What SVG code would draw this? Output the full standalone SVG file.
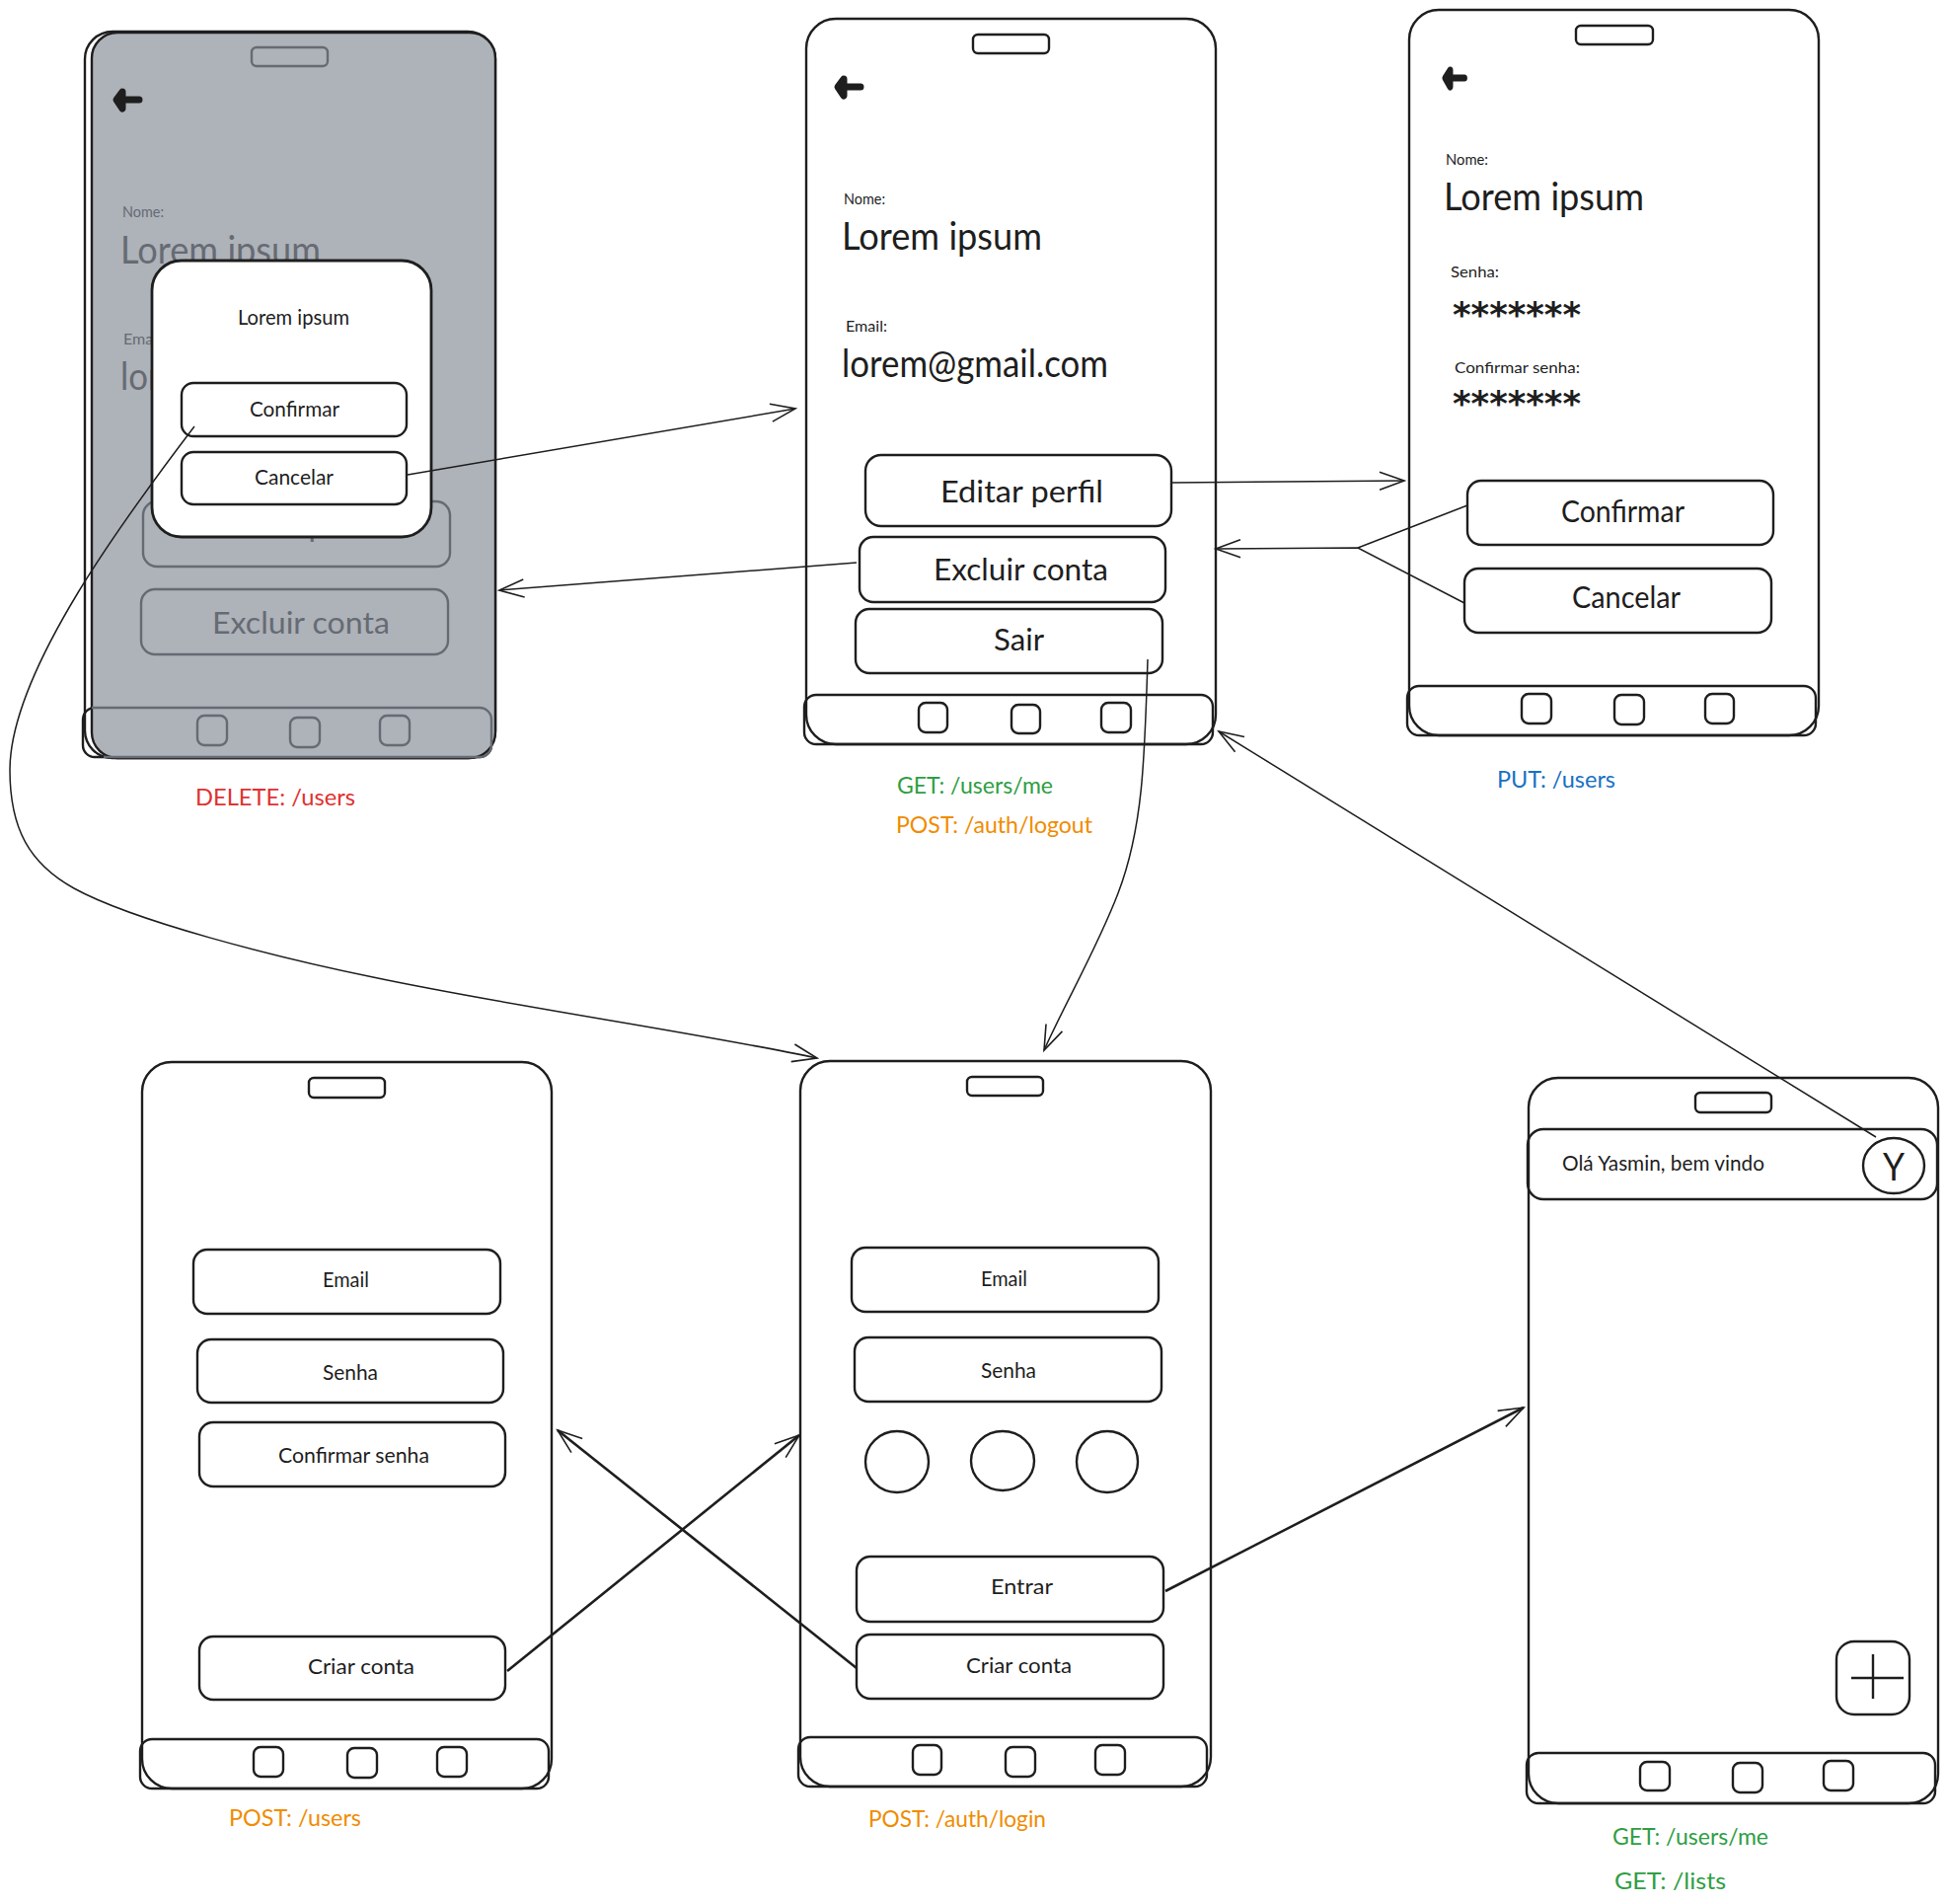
<svg xmlns="http://www.w3.org/2000/svg" width="1973" height="1929" viewBox="0 0 1973 1929">
<defs>
<style>
text{font-family:"Lato","Noto Sans",sans-serif;fill:#1e1e1e}
.s16{font-size:16px}.s20{font-size:21px}.s22{font-size:23px}.s28{font-size:30px}.s36{font-size:38px}
.ph,.btn,.bar,.sq,.no,.ci{fill:none;stroke:#1e1e1e;stroke-width:2.4}
.ph{fill:#fff}.btn,.dlg{fill:#fff}
.g .btn,.g .bar,.g .sq,.g .no{fill:none;stroke:#666b73}
.g text{fill:#666b73}
.dlg{stroke:#1e1e1e;stroke-width:2.8}
.ast{font-family:"DejaVu Sans",sans-serif;font-weight:700;font-size:36px}
.cn{fill:none;stroke:#1e1e1e;stroke-width:1.5;marker-end:url(#a)}
.cb{stroke-width:2.6}
.ln{fill:none;stroke:#1e1e1e;stroke-width:1.5}
.ic{fill:#1e1e1e;stroke:#1e1e1e;stroke-width:7;stroke-linecap:round;stroke-linejoin:round}
.red{fill:#e03131}.grn{fill:#2f9e44}.org{fill:#f08c00}.blu{fill:#1971c2}
</style>
<marker id="a" viewBox="-30 -15 34 30" markerWidth="34" markerHeight="30" refX="0" refY="0" orient="auto" markerUnits="userSpaceOnUse"><path d="M-25,-9 L0,0 L-25,9" fill="none" stroke="#1e1e1e" stroke-width="1.6"/></marker>
</defs>
<rect width="1973" height="1929" fill="#fff"/>

<g id="phone-delete">
<rect class="ph" x="86" y="32" width="416" height="736" rx="28"/>
<rect class="bar" x="84" y="717" width="414" height="50" rx="12"/>
<rect x="93" y="33" width="409" height="735" rx="26" fill="#aeb2b9" stroke="#1e1e1e" stroke-width="2.4"/>
<g class="g">
<rect class="no" x="255" y="48" width="77" height="19" rx="5"/>
<text class="s16" x="124" y="220" textLength="42" lengthAdjust="spacingAndGlyphs">Nome:</text>
<text class="s36" x="122" y="267" textLength="203" lengthAdjust="spacingAndGlyphs">Lorem ipsum</text>
<text class="s16" x="125" y="349" textLength="42" lengthAdjust="spacingAndGlyphs">Email:</text>
<text class="s36" x="122" y="395" textLength="270" lengthAdjust="spacingAndGlyphs">lorem@gmail.com</text>
<rect class="btn" x="145" y="508" width="311" height="66" rx="14"/>
<text class="s28" x="221" y="544" textLength="165" lengthAdjust="spacingAndGlyphs">Editar perfil</text>
<rect class="btn" x="143" y="597" width="311" height="66" rx="14"/>
<text class="s28" x="215" y="642" textLength="180" lengthAdjust="spacingAndGlyphs">Excluir conta</text>
<path class="bar" d="M93,717 H486 a12,12 0 0 1 12,12 V755 a12,12 0 0 1 -12,12 H105"/>
<rect class="sq" x="200" y="725" width="30" height="30" rx="7"/>
<rect class="sq" x="294" y="727" width="30" height="30" rx="7"/>
<rect class="sq" x="385" y="725" width="30" height="30" rx="7"/>
</g>
<path class="ic" transform="translate(114,89)" d="M10,4 L4,12 L10,21 Z M8,12 H27"/>
</g>

<g id="dialog">
<rect class="dlg" x="154" y="264" width="283" height="280" rx="30"/>
<text class="s20" x="241" y="329" textLength="113" lengthAdjust="spacingAndGlyphs">Lorem ipsum</text>
<g id="dialog-confirmar"><rect class="btn" x="184" y="388" width="228" height="54" rx="12"/>
<text class="s20" x="253" y="422" textLength="91" lengthAdjust="spacingAndGlyphs">Confirmar</text></g>
<g id="dialog-cancelar"><rect class="btn" x="184" y="458" width="228" height="53" rx="12"/>
<text class="s20" x="258" y="491" textLength="80" lengthAdjust="spacingAndGlyphs">Cancelar</text></g>
</g>
<text id="label-delete" class="s22 red" x="198" y="816" textLength="162" lengthAdjust="spacingAndGlyphs">DELETE: /users</text>

<g id="phone-profile">
<rect class="ph" x="817" y="19" width="415" height="735" rx="30"/>
<rect class="no" x="986" y="35" width="77" height="19" rx="5"/>
<path class="ic" transform="translate(845,76)" d="M10,4 L4,12 L10,21 Z M8,12 H27"/>
<text class="s16" x="855" y="207" textLength="42" lengthAdjust="spacingAndGlyphs">Nome:</text>
<text class="s36" x="853" y="253" textLength="203" lengthAdjust="spacingAndGlyphs">Lorem ipsum</text>
<text class="s16" x="857" y="336" textLength="42" lengthAdjust="spacingAndGlyphs">Email:</text>
<text class="s36" x="853" y="382" textLength="270" lengthAdjust="spacingAndGlyphs">lorem@gmail.com</text>
<g id="btn-editar"><rect class="btn" x="877" y="461" width="310" height="72" rx="16"/>
<text class="s28" x="953" y="509" textLength="165" lengthAdjust="spacingAndGlyphs">Editar perfil</text></g>
<g id="btn-excluir"><rect class="btn" x="871" y="544" width="310" height="66" rx="14"/>
<text class="s28" x="946" y="588" textLength="177" lengthAdjust="spacingAndGlyphs">Excluir conta</text></g>
<g id="btn-sair"><rect class="btn" x="867" y="617" width="311" height="65" rx="14"/>
<text class="s28" x="1007" y="659" textLength="51" lengthAdjust="spacingAndGlyphs">Sair</text></g>
<rect class="bar" x="815" y="704" width="414" height="50" rx="12"/>
<rect class="sq" x="931" y="712" width="29" height="30" rx="7"/>
<rect class="sq" x="1025" y="714" width="29" height="29" rx="7"/>
<rect class="sq" x="1116" y="712" width="30" height="30" rx="7"/>
</g>
<text id="label-profile-get" class="s22 grn" x="909" y="804" textLength="158" lengthAdjust="spacingAndGlyphs">GET: /users/me</text>
<text id="label-profile-post" class="s22 org" x="908" y="844" textLength="199" lengthAdjust="spacingAndGlyphs">POST: /auth/logout</text>

<g id="phone-edit">
<rect class="ph" x="1428" y="10" width="415" height="735" rx="30"/>
<rect class="no" x="1597" y="26" width="78" height="19" rx="5"/>
<path class="ic" transform="translate(1461,67) scale(.85,1)" d="M10,4 L4,12 L10,21 Z M8,12 H27"/>
<text class="s16" x="1465" y="167" textLength="43" lengthAdjust="spacingAndGlyphs">Nome:</text>
<text class="s36" x="1463" y="213" textLength="203" lengthAdjust="spacingAndGlyphs">Lorem ipsum</text>
<text class="s16" x="1470" y="281" textLength="49" lengthAdjust="spacingAndGlyphs">Senha:</text>
<text class="ast" x="1472" y="331" textLength="130" lengthAdjust="spacingAndGlyphs">*******</text>
<text class="s16" x="1474" y="378" textLength="127" lengthAdjust="spacingAndGlyphs">Confirmar senha:</text>
<text class="ast" x="1472" y="421" textLength="130" lengthAdjust="spacingAndGlyphs">*******</text>
<g id="btn-edit-confirmar"><rect class="btn" x="1487" y="487" width="310" height="65" rx="14"/>
<text class="s28" x="1582" y="529" textLength="125" lengthAdjust="spacingAndGlyphs">Confirmar</text></g>
<g id="btn-edit-cancelar"><rect class="btn" x="1484" y="576" width="311" height="65" rx="14"/>
<text class="s28" x="1593" y="616" textLength="110" lengthAdjust="spacingAndGlyphs">Cancelar</text></g>
<rect class="bar" x="1426" y="695" width="414" height="50" rx="12"/>
<rect class="sq" x="1542" y="703" width="30" height="30" rx="7"/>
<rect class="sq" x="1636" y="704" width="30" height="30" rx="7"/>
<rect class="sq" x="1728" y="703" width="29" height="30" rx="7"/>
</g>
<text id="label-edit" class="s22 blu" x="1517" y="798" textLength="120" lengthAdjust="spacingAndGlyphs">PUT: /users</text>

<g id="phone-signup">
<rect class="ph" x="144" y="1076" width="415" height="736" rx="30"/>
<rect class="no" x="313" y="1092" width="77" height="20" rx="5"/>
<g id="field-signup-email"><rect class="btn" x="196" y="1266" width="311" height="65" rx="14"/>
<text class="s20" x="327" y="1304" textLength="47" lengthAdjust="spacingAndGlyphs">Email</text></g>
<g id="field-signup-senha"><rect class="btn" x="200" y="1357" width="310" height="64" rx="14"/>
<text class="s20" x="327" y="1398" textLength="56" lengthAdjust="spacingAndGlyphs">Senha</text></g>
<g id="field-signup-confirmar"><rect class="btn" x="202" y="1441" width="310" height="65" rx="14"/>
<text class="s20" x="282" y="1482" textLength="153" lengthAdjust="spacingAndGlyphs">Confirmar senha</text></g>
<g id="btn-signup-criar"><rect class="btn" x="202" y="1658" width="310" height="64" rx="14"/>
<text class="s20" x="312" y="1696" textLength="108" lengthAdjust="spacingAndGlyphs">Criar conta</text></g>
<rect class="bar" x="142" y="1762" width="414" height="50" rx="12"/>
<rect class="sq" x="257" y="1770" width="30" height="30" rx="7"/>
<rect class="sq" x="352" y="1771" width="30" height="30" rx="7"/>
<rect class="sq" x="443" y="1770" width="30" height="30" rx="7"/>
</g>
<text id="label-signup" class="s22 org" x="232" y="1850" textLength="134" lengthAdjust="spacingAndGlyphs">POST: /users</text>

<g id="phone-login">
<rect class="ph" x="811" y="1075" width="416" height="735" rx="30"/>
<rect class="no" x="980" y="1091" width="77" height="19" rx="5"/>
<g id="field-login-email"><rect class="btn" x="863" y="1264" width="311" height="65" rx="14"/>
<text class="s20" x="994" y="1303" textLength="47" lengthAdjust="spacingAndGlyphs">Email</text></g>
<g id="field-login-senha"><rect class="btn" x="866" y="1355" width="311" height="65" rx="14"/>
<text class="s20" x="994" y="1396" textLength="56" lengthAdjust="spacingAndGlyphs">Senha</text></g>
<ellipse class="ci" cx="909" cy="1481" rx="32" ry="31"/>
<ellipse class="ci" cx="1016" cy="1480" rx="32" ry="30"/>
<ellipse class="ci" cx="1122" cy="1481" rx="31" ry="31"/>
<g id="btn-login-entrar"><rect class="btn" x="868" y="1577" width="311" height="66" rx="14"/>
<text class="s20" x="1004" y="1615" textLength="63" lengthAdjust="spacingAndGlyphs">Entrar</text></g>
<g id="btn-login-criar"><rect class="btn" x="868" y="1656" width="311" height="65" rx="14"/>
<text class="s20" x="979" y="1695" textLength="107" lengthAdjust="spacingAndGlyphs">Criar conta</text></g>
<rect class="bar" x="809" y="1760" width="414" height="50" rx="12"/>
<rect class="sq" x="925" y="1768" width="29" height="30" rx="7"/>
<rect class="sq" x="1019" y="1770" width="30" height="30" rx="7"/>
<rect class="sq" x="1110" y="1768" width="30" height="30" rx="7"/>
</g>
<text id="label-login" class="s22 org" x="880" y="1851" textLength="180" lengthAdjust="spacingAndGlyphs">POST: /auth/login</text>

<g id="phone-home">
<rect class="ph" x="1549" y="1092" width="415" height="735" rx="30"/>
<rect class="no" x="1718" y="1107" width="77" height="20" rx="5"/>
<g id="home-header"><rect class="bar" x="1548" y="1144" width="415" height="71" rx="16"/>
<text class="s20" x="1583" y="1186" textLength="205" lengthAdjust="spacingAndGlyphs">Olá Yasmin, bem vindo</text>
<ellipse class="ci" cx="1919" cy="1181" rx="31" ry="28"/>
<text class="s36" x="1908" y="1196" textLength="22" lengthAdjust="spacingAndGlyphs">Y</text></g>
<g id="home-add"><rect class="bar" x="1861" y="1663" width="74" height="74" rx="18"/>
<path class="bar" d="M1876,1700 H1929 M1898,1676 V1721"/></g>
<rect class="bar" x="1547" y="1776" width="414" height="51" rx="12"/>
<rect class="sq" x="1662" y="1785" width="30" height="29" rx="7"/>
<rect class="sq" x="1756" y="1786" width="30" height="30" rx="7"/>
<rect class="sq" x="1848" y="1784" width="30" height="30" rx="7"/>
</g>
<text id="label-home-me" class="s22 grn" x="1634" y="1869" textLength="158" lengthAdjust="spacingAndGlyphs">GET: /users/me</text>
<text id="label-home-lists" class="s22 grn" x="1636" y="1914" textLength="113" lengthAdjust="spacingAndGlyphs">GET: /lists</text>

<g id="connectors">
<path class="cn" d="M413,481 L806,414"/>
<path class="cn" d="M868,570 L506,598"/>
<path class="cn" d="M1187,489 L1423,487"/>
<path class="ln" d="M1487,512 L1376,555"/>
<path class="cn" d="M1484,611 L1376,555 L1232,556"/>
<path class="cn" d="M1163,668 C1160,770 1158,840 1133,905 C1112,960 1080,1015 1058,1064"/>
<path class="cn" d="M197,432 C130,520 10,680 10,780 C10,840 30,875 75,900 C135,933 280,970 378,990 C520,1020 700,1045 828,1072"/>
<path class="cn" d="M1901,1152 L1235,741"/>
<path class="cn cb" d="M514,1693 L810,1454"/>
<path class="cn cb" d="M868,1690 L565,1449"/>
<path class="cn cb" d="M1181,1612 L1544,1426"/>
</g>
</svg>
